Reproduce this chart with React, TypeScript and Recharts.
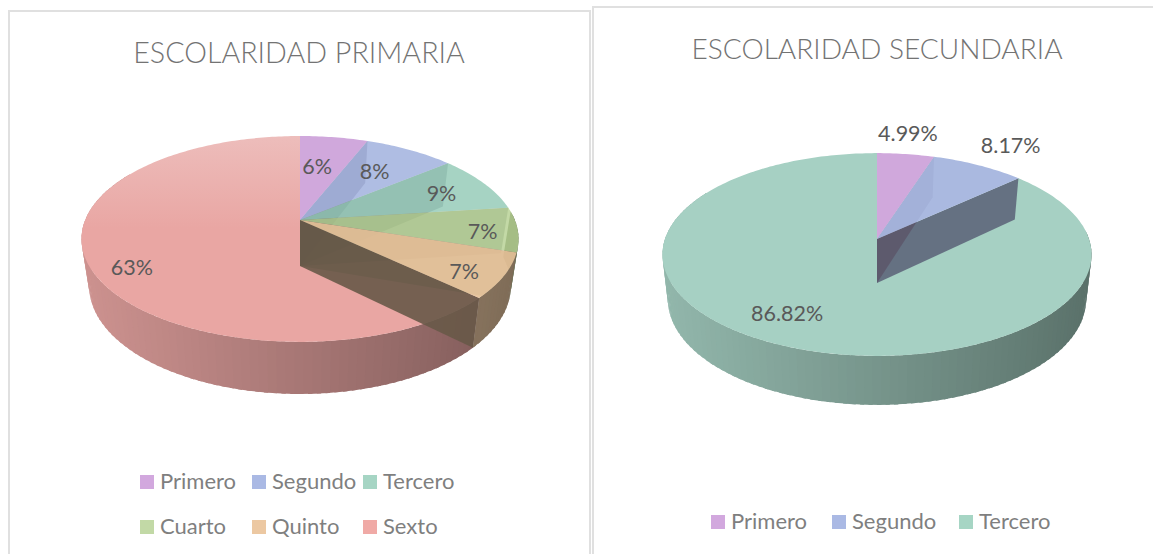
import { Legend, Pie, PieChart } from "recharts";

const PRIMARY_NAMES = ["Primero", "Segundo", "Tercero", "Cuarto", "Quinto", "Sexto"];
const PRIMARY_VALUES = [6, 8, 9, 7, 7, 63];
const PRIMARY_LABELS = ["6%", "8%", "9%", "7%", "7%", "63%"];
const PRIMARY_COLORS = ["#d0a8dc", "#afbde3", "#a6d3c3", "#c3d9a6", "#e8c6a0", "#e9a6a3"];
const PRIMARY_SWATCHES = ["#d2a8de", "#aab9e4", "#a6d5c4", "#c2d9a6", "#ecc8a2", "#f0aaa6"];

const SECONDARY_NAMES = ["Primero", "Segundo", "Tercero"];
const SECONDARY_VALUES = [4.99, 8.17, 86.82];
const SECONDARY_LABELS = ["4.99%", "8.17%", "86.82%"];
const SECONDARY_COLORS = ["#d0a8dc", "#aab9e0", "#a6d0c3"];
const SECONDARY_SWATCHES = ["#d2a8de", "#aab9e4", "#a6d5c4"];

type Look = {
  id: string;
  cx: number;
  cy: number;
  radius: number;
  tilt: number; // vertical squash of the disc
  persp: number; // near edge bigger than far edge
  depth: number;
  xShrink: number; // lower face vs upper face
  yGrow: number;
  faceAlpha: number;
  nearFaceShade: number;
  nearFaceOnTop: boolean;
  glow: string | null;
  labelSpots: { f: number; turn: number }[];
};

const PRIMARY_LOOK: Look = {
  id: "prim",
  cx: 300,
  cy: 220,
  radius: 214.8,
  tilt: 0.463,
  persp: 0.184,
  depth: 46,
  xShrink: 0.965,
  yGrow: 1.05,
  faceAlpha: 0.5,
  nearFaceShade: 0.45,
  nearFaceOnTop: true,
  glow: "#edbdbb",
  labelSpots: [
    { f: 0.61, turn: -2.5 },
    { f: 0.66, turn: -0.6 },
    { f: 0.75, turn: 1 },
    { f: 0.84, turn: 2 },
    { f: 0.84, turn: 3.1 },
    { f: 0.84, turn: -7.6 },
  ],
};

const SECONDARY_LOOK: Look = {
  id: "sec",
  cx: 285,
  cy: 239,
  radius: 212,
  tilt: 0.467,
  persp: 0.153,
  depth: 44,
  xShrink: 0.975,
  yGrow: 1.043,
  faceAlpha: 0.55,
  nearFaceShade: 0.55,
  nearFaceOnTop: false,
  glow: null,
  labelSpots: [
    { f: 1.29, turn: -1.2 },
    { f: 1.33, turn: 1 },
    { f: 0.77, turn: 5.9 },
  ],
};

function channels(hex: string) {
  const n = parseInt(hex.slice(1), 16);
  return [(n >> 16) & 255, (n >> 8) & 255, n & 255];
}

function darken(hex: string, k: number) {
  const [r, g, b] = channels(hex).map((c) => Math.round(c * k));
  return `rgb(${r},${g},${b})`;
}

// colour to paint at this alpha so it still reads as hex over white
function glassFill(hex: string, alpha: number) {
  const [r, g, b] = channels(hex).map((c) => Math.max(0, Math.round((c - 255 * (1 - alpha)) / alpha)));
  return `rgb(${r},${g},${b})`;
}

// position on the disc -> screen; turn is degrees clockwise from 12 o'clock
function project(look: Look, cx: number, cy: number, R: number, turn: number, f: number, lower: boolean) {
  const rad = (turn * Math.PI) / 180;
  const u = f * Math.sin(rad);
  const v = -f * Math.cos(rad);
  const w = 1 - look.persp * v;
  if (lower) {
    return {
      x: cx + (R * look.xShrink * u) / w,
      y: cy + look.depth + (R * look.tilt * look.yGrow * v) / w,
    };
  }
  return { x: cx + (R * u) / w, y: cy + (R * look.tilt * v) / w };
}

const pts = (list: { x: number; y: number }[]) => list.map((p) => `${p.x.toFixed(1)},${p.y.toFixed(1)}`).join(" ");

function sliceTop(look: Look, s: any, alpha: number, fill: string) {
  const from = 90 - s.startAngle;
  const to = 90 - s.endAngle;
  const list = [{ x: s.cx, y: s.cy }];
  for (let t = from; t < to; t += 1) list.push(project(look, s.cx, s.cy, s.outerRadius, t, 1, false));
  list.push(project(look, s.cx, s.cy, s.outerRadius, to, 1, false));
  return <polygon points={pts(list)} fill={fill} fillOpacity={alpha} />;
}

function sliceWall(look: Look, s: any) {
  const from = Math.max(90 - s.startAngle, 85);
  const to = Math.min(90 - s.endAngle, 300);
  const strips = [];
  for (let t = from; t < to; t += 2) {
    // each strip runs under the next one, so no seams show
    const end = Math.min(t + 3, to);
    const a = project(look, s.cx, s.cy, s.outerRadius, t, 1, false);
    const b = project(look, s.cx, s.cy, s.outerRadius, end, 1, false);
    const c = project(look, s.cx, s.cy, s.outerRadius, end, 1, true);
    const d = project(look, s.cx, s.cy, s.outerRadius, t, 1, true);
    const pos = (c.x - (s.cx - s.outerRadius)) / (2 * s.outerRadius);
    strips.push(<polygon key={t} points={pts([a, b, c, d])} fill={darken(s.fill, 0.88 - 0.34 * pos)} />);
  }
  return <g>{strips}</g>;
}

function sliceFace(look: Look, s: any, k: number, alpha: number) {
  const to = 90 - s.endAngle;
  const list = [
    { x: s.cx, y: s.cy },
    project(look, s.cx, s.cy, s.outerRadius, to, 1, false),
    project(look, s.cx, s.cy, s.outerRadius, to, 1, true),
    { x: s.cx, y: s.cy + look.depth },
  ];
  return <polygon points={pts(list)} fill={darken(s.fill, k)} fillOpacity={alpha} />;
}

function Pie3D({
  look,
  names,
  values,
  labels,
  colors,
  swatches,
  legendSpots,
}: {
  look: Look;
  names: string[];
  values: number[];
  labels: string[];
  colors: string[];
  swatches: string[];
  legendSpots: { x: number; y: number }[];
}) {
  const rows = names.map((name, i) => ({ name, value: values[i], fill: colors[i] }));
  const last = names.length - 1;
  const glowId = `${look.id}-glow`;

  // painter's order: big slice, then the inner faces, then the small tops
  const faceOrder = names.slice(0, last).map((_, i) => (look.nearFaceOnTop ? i : last - 1 - i));
  const layers = ["base", ...faceOrder.map((i) => `face${i}`), "tops"];

  const shapeFor = (layer: string) => (s: any) => {
    const idx = names.indexOf(s.name);
    if (layer === "base") {
      if (idx !== last) return <g />;
      return (
        <g>
          {look.glow && (
            <defs>
              <linearGradient id={glowId} x1="0" y1="0" x2="0" y2="1">
                <stop offset="0" stopColor={look.glow} />
                <stop offset="0.45" stopColor={s.fill} />
              </linearGradient>
            </defs>
          )}
          {sliceWall(look, s)}
          {sliceTop(look, s, 1, look.glow ? `url(#${glowId})` : s.fill)}
        </g>
      );
    }
    if (layer === "tops") {
      if (idx === last) return <g />;
      const alpha = idx === last - 1 ? 0.92 : 0.8;
      return sliceTop(look, s, alpha, glassFill(s.fill, alpha));
    }
    if (layer === `face${idx}`) {
      const closest = idx === last - 1;
      return (
        <g>
          {sliceWall(look, s)}
          {sliceFace(look, s, closest ? look.nearFaceShade : 0.42, closest ? 0.9 : look.faceAlpha)}
        </g>
      );
    }
    return <g />;
  };

  const renderLabel = (p: any) => {
    const spot = look.labelSpots[p.index];
    const at = project(look, p.cx, p.cy, p.outerRadius, 90 - p.midAngle + spot.turn, spot.f, false);
    return (
      <text
        x={at.x}
        y={at.y}
        textAnchor="middle"
        dominantBaseline="central"
        fill="#595959"
        fontSize={21.5}
        fontFamily="Lato"
      >
        {labels[p.index]}
      </text>
    );
  };

  const renderLegend = () => (
    <div>
      {names.map((name, i) => (
        <div
          key={name}
          style={{
            position: "absolute",
            left: legendSpots[i].x,
            top: legendSpots[i].y,
            display: "flex",
            alignItems: "center",
            height: 16,
            whiteSpace: "nowrap",
          }}
        >
          <span style={{ width: 14, height: 14, background: swatches[i], marginRight: 6 }} />
          <span style={{ fontFamily: "Lato", fontSize: 22, color: "#7f7f7f", position: "relative", top: -2 }}>
            {name}
          </span>
        </div>
      ))}
    </div>
  );

  return (
    <PieChart width={590} height={554} margin={{ top: 0, right: 0, bottom: 0, left: 0 }}>
      {layers.map((layer) => (
        <Pie
          key={layer}
          data={rows}
          dataKey="value"
          nameKey="name"
          cx={look.cx}
          cy={look.cy}
          outerRadius={look.radius}
          startAngle={90}
          endAngle={-270}
          stroke="none"
          isAnimationActive={false}
          legendType={layer === "tops" ? "square" : "none"}
          shape={shapeFor(layer)}
          label={layer === "tops" ? renderLabel : false}
          labelLine={false}
        />
      ))}
      <Legend content={renderLegend} wrapperStyle={{ left: 0, top: 0, width: 590, height: 0 }} />
    </PieChart>
  );
}

const cardBase = {
  position: "absolute" as const,
  boxSizing: "border-box" as const,
  background: "#fff",
  border: "2px solid #e0e0e0",
};

const titleBase = {
  position: "absolute" as const,
  textAlign: "center" as const,
  fontFamily: "Lato",
  fontWeight: 300,
  color: "#737373",
  whiteSpace: "nowrap" as const,
};

export default function App() {
  return (
    <div style={{ position: "fixed", inset: 0, overflow: "hidden", background: "#fff" }}>
      <div style={{ ...cardBase, left: 8, top: 10, width: 583, height: 560 }} />
      <div style={{ ...cardBase, left: 592, top: 6, width: 580, height: 560 }} />
      <div style={{ position: "absolute", left: 0, top: 0 }}>
        <Pie3D
          look={PRIMARY_LOOK}
          names={PRIMARY_NAMES}
          values={PRIMARY_VALUES}
          labels={PRIMARY_LABELS}
          colors={PRIMARY_COLORS}
          swatches={PRIMARY_SWATCHES}
          legendSpots={[
            { x: 140, y: 474 },
            { x: 252, y: 474 },
            { x: 363, y: 474 },
            { x: 140, y: 519 },
            { x: 252, y: 519 },
            { x: 363, y: 519 },
          ]}
        />
      </div>
      <div style={{ position: "absolute", left: 592, top: 0 }}>
        <Pie3D
          look={SECONDARY_LOOK}
          names={SECONDARY_NAMES}
          values={SECONDARY_VALUES}
          labels={SECONDARY_LABELS}
          colors={SECONDARY_COLORS}
          swatches={SECONDARY_SWATCHES}
          legendSpots={[
            { x: 119, y: 514 },
            { x: 240, y: 514 },
            { x: 367, y: 514 },
          ]}
        />
      </div>
      <div style={{ ...titleBase, fontSize: 28.7, left: 0, width: 598, top: 35 }}>ESCOLARIDAD PRIMARIA</div>
      <div style={{ ...titleBase, fontSize: 28.1, left: 592, width: 570, top: 31 }}>ESCOLARIDAD SECUNDARIA</div>
    </div>
  );
}
